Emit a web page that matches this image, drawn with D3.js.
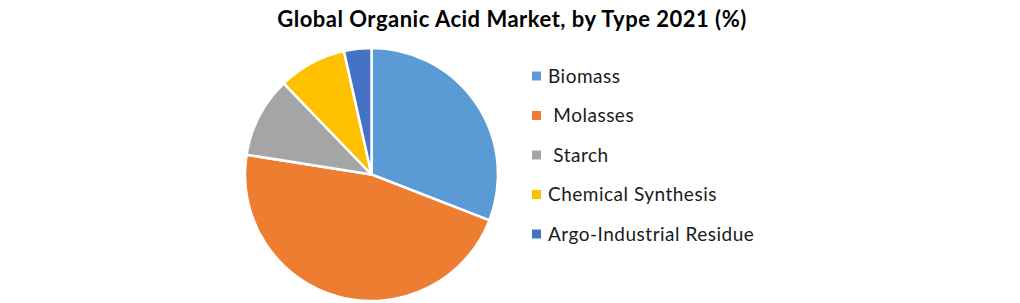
<!DOCTYPE html>
<html>
<head>
<meta charset="utf-8">
<script src="https://cdn.jsdelivr.net/npm/d3@7"></script>
<style>
  body { margin: 0; background: #fff; }
  text { font-family: Lato, "Open Sans", sans-serif; }
</style>
</head>
<body>
<div id="chart"></div>
<script>
const categories = ["Biomass", " Molasses", " Starch", "Chemical Synthesis", "Argo-Industrial Residue"];
const shares = [30.9, 46.6, 10.3, 8.7, 3.5];
const colors = ["#5B9BD5", "#ED7D31", "#A5A5A5", "#FFC000", "#4472C4"];
const title = "Global Organic Acid Market, by Type 2021 (%)";

const W = 1020, H = 303;
const cx = 371.5, cy = 174.5, R = 126.5;

const svg = d3.select("#chart").append("svg").attr("width", W).attr("height", H);

svg.append("text")
  .attr("x", 512).attr("y", 27)
  .attr("text-anchor", "middle")
  .attr("font-size", 22).attr("font-weight", "bold")
  .attr("letter-spacing", 0.5)
  .attr("fill", "#000")
  .text(title);

const data = categories.map((c, i) => ({ name: c, value: shares[i], color: colors[i] }));

const pie = d3.pie().value(d => d.value).sort(null);
const arc = d3.arc().innerRadius(0).outerRadius(R);

const g = svg.append("g").attr("transform", `translate(${cx},${cy})`);
g.selectAll("path")
  .data(pie(data))
  .enter()
  .append("path")
  .attr("d", arc)
  .attr("fill", d => d.data.color)
  .attr("stroke", "#fff")
  .attr("stroke-width", 2.5)
  .attr("stroke-linejoin", "round");

// legend
const legendY = d3.scalePoint().domain(categories).range([76, 234]);
const lg = svg.append("g").attr("class", "legend");
const rows = lg.selectAll("g")
  .data(data)
  .enter()
  .append("g")
  .attr("transform", d => `translate(532,${legendY(d.name)})`);

rows.append("rect")
  .attr("x", 0).attr("y", -4.5)
  .attr("width", 9).attr("height", 9)
  .attr("fill", d => d.color);

rows.append("text")
  .attr("x", 16).attr("y", 0)
  .attr("dy", "0.35em")
  .attr("font-size", 19)
  .attr("letter-spacing", 0.5)
  .attr("fill", "#1a1a1a")
  .attr("xml:space", "preserve")
  .style("white-space", "pre")
  .text(d => d.name);
</script>
</body>
</html>
